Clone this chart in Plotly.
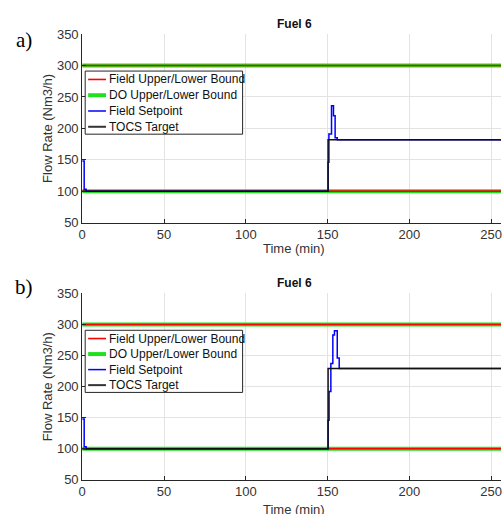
import plotly.graph_objects as go

W, H = 502, 514

# ---------------- data ----------------
bound_time = [0, 260]
field_upper = [300, 300]
field_lower = [100, 100]
do_upper = [300, 300]
do_lower = [100, 100]

sp_a_time = [0, 1.2, 2.4, 150.3, 150.8, 152.4, 153.6, 154.6, 155.9, 260]
sp_a_val = [148, 103, 100, 146, 191, 236, 220, 185, 182, 182]
tgt_a_time = [0, 150.3, 260]
tgt_a_val = [100, 182, 182]

sp_b_time = [0, 1.2, 2.4, 150.3, 150.9, 152.0, 153.2, 154.2, 155.9, 157.1, 260]
sp_b_val = [148, 103, 100, 146, 192, 237, 283, 290, 246, 229, 229]
tgt_b_time = [0, 150.3, 260]
tgt_b_val = [100, 229, 229]

x_ticks = [0, 50, 100, 150, 200, 250]
y_ticks = [50, 100, 150, 200, 250, 300, 350]
legend_names = ["Field Upper/Lower Bound", "DO Upper/Lower Bound", "Field Setpoint", "TOCS Target"]
panel_labels = ["a)", "b)"]

# ---------------- style ----------------
RED = "#ff0000"
GREEN = "#1fe01f"
BLUE = "#0000ff"
BLACK = "#111111"
AX = "#262626"
GRID = "#e3e3e3"
FONT = "Liberation Sans, Arial, sans-serif"

def px(x):
    return x / W

def py(y):
    return 1 - y / H

fig = go.Figure()

X0 = 79  # left edge of the axes (px)
panels = [
    dict(sp_t=sp_a_time, sp_v=sp_a_val, tg_t=tgt_a_time, tg_v=tgt_a_val,
         top=28, bottom=222, title_y=18, xlab_y=249, lab_y=34, leg_top=66, leg_bot=131),
    dict(sp_t=sp_b_time, sp_v=sp_b_val, tg_t=tgt_b_time, tg_v=tgt_b_val,
         top=295, bottom=487, title_y=284, xlab_y=518, lab_y=288, leg_top=333, leg_bot=397),
]

def seg(t, a, b):
    return t + [None] + t, a + [None] + b

annotations = []
shapes = []
for i, p in enumerate(panels):
    sfx = "" if i == 0 else str(i + 1)
    xa, ya = "x" + sfx, "y" + sfx
    xs, ys = seg(bound_time, do_upper, do_lower)
    fig.add_trace(go.Scatter(x=xs, y=ys, mode="lines", line=dict(color=GREEN, width=4),
                             xaxis=xa, yaxis=ya, showlegend=False, name=legend_names[1]))
    xs, ys = seg(bound_time, field_upper, field_lower)
    fig.add_trace(go.Scatter(x=xs, y=ys, mode="lines", line=dict(color=RED, width=1.6),
                             xaxis=xa, yaxis=ya, showlegend=False, name=legend_names[0]))
    fig.add_trace(go.Scatter(x=p["sp_t"], y=p["sp_v"], mode="lines",
                             line=dict(color=BLUE, width=1.5, shape="hv"),
                             xaxis=xa, yaxis=ya, showlegend=False, name=legend_names[2]))
    fig.add_trace(go.Scatter(x=p["tg_t"], y=p["tg_v"], mode="lines",
                             line=dict(color=BLACK, width=1.5, shape="hv"),
                             xaxis=xa, yaxis=ya, showlegend=False, name=legend_names[3]))

    common_x = dict(domain=[px(X0), 1.0], range=[0, 256], tickvals=x_ticks,
                    showgrid=True, gridcolor=GRID, gridwidth=1, zeroline=False,
                    showline=True, linecolor=AX, linewidth=1, ticks="inside", ticklen=4,
                    tickcolor=AX, tickfont=dict(family=FONT, size=13, color="#333333"),
                    ticklabeloverflow="allow", anchor=ya, fixedrange=True)
    common_y = dict(domain=[py(p["bottom"]), py(p["top"])], range=[50, 350], tickvals=y_ticks,
                    showgrid=True, gridcolor=GRID, gridwidth=1, zeroline=False,
                    showline=True, linecolor=AX, linewidth=1, ticks="inside", ticklen=4,
                    tickcolor=AX, tickfont=dict(family=FONT, size=13, color="#333333"),
                    ticklabeloverflow="allow", anchor=xa, fixedrange=True)
    fig.update_layout(**{"xaxis" + sfx: common_x, "yaxis" + sfx: common_y})

    annotations.append(dict(text="<b>Fuel 6</b>", x=px(293), y=py(p["title_y"]), xref="paper", yref="paper",
                            showarrow=False, xanchor="center", yanchor="middle",
                            font=dict(family=FONT, size=12, color="#111111")))
    annotations.append(dict(text="Time (min)", x=px(293), y=py(p["xlab_y"]), xref="paper", yref="paper",
                            showarrow=False, xanchor="center", yanchor="middle",
                            font=dict(family=FONT, size=13, color="#333333")))
    annotations.append(dict(text="Flow Rate (Nm3/h)", x=px(44), y=py((p["top"] + p["bottom"]) / 2),
                            xref="paper", yref="paper", showarrow=False, textangle=-90,
                            xanchor="center", yanchor="middle",
                            font=dict(family=FONT, size=13, color="#333333")))
    annotations.append(dict(text=panel_labels[i], x=px(20), y=py(p["lab_y"]), xref="paper", yref="paper",
                            showarrow=False, xanchor="center", yanchor="middle",
                            font=dict(family="Liberation Serif, Times New Roman, serif", size=21, color="#000000")))

    lt, lb = p["leg_top"], p["leg_bot"]
    shapes.append(dict(type="rect", xref="paper", yref="paper", x0=px(X0 + 3), x1=px(241),
                       y0=py(lb), y1=py(lt), line=dict(color=AX, width=1), fillcolor="white", layer="above"))
    row_h = (lb - lt) / 4.0
    styles = [(RED, 1.6), (GREEN, 4), (BLUE, 1.5), ("#333333", 2)]
    for k, (name, (c, w)) in enumerate(zip(legend_names, styles)):
        yc = lt + row_h * (k + 0.5) + 0.5
        shapes.append(dict(type="line", xref="paper", yref="paper", x0=px(X0 + 6), x1=px(X0 + 24),
                           y0=py(yc), y1=py(yc), line=dict(color=c, width=w), layer="above"))
        annotations.append(dict(text=name, x=px(X0 + 25), y=py(yc), xref="paper", yref="paper",
                                showarrow=False, xanchor="left", yanchor="middle",
                                font=dict(family=FONT, size=12, color="#111111")))

fig.update_layout(width=W, height=H, margin=dict(l=0, r=0, t=0, b=0),
                  paper_bgcolor="white", plot_bgcolor="white", showlegend=False,
                  annotations=annotations, shapes=shapes)

fig.write_html("out.html", config={"displayModeBar": False},
               post_script="document.body.style.margin='0px';document.body.style.overflow='hidden';")
